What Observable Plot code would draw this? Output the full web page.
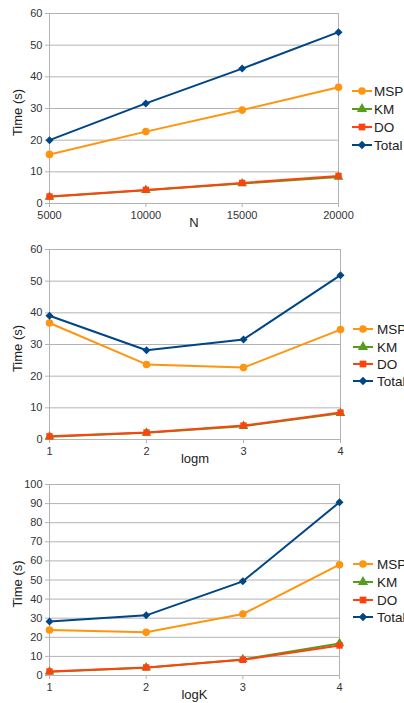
<!DOCTYPE html>
<html>
<head>
<meta charset="utf-8">
<script src="https://cdn.jsdelivr.net/npm/d3@7"></script>
<script src="https://cdn.jsdelivr.net/npm/@observablehq/plot@0.6"></script>
<style>
  html, body { margin: 0; padding: 0; background: #fff; overflow: hidden; }
  .panel { position: relative; width: 404px; overflow: hidden; }
  .legend { position: absolute; left: 0; top: 0; }
</style>
</head>
<body>
<div id="root"></div>
<script>
// ---- data ----
const seriesNames = ["MSP", "KM", "DO", "Total"];
const seriesColors = ["#ff950e", "#579d1c", "#ff420e", "#004586"];
const seriesSymbols = ["circle", "triangle", "square", "diamond2"];

// Panel 1: N
const xN = [5000, 10000, 15000, 20000];
const mspN = [15.5, 22.7, 29.5, 36.7];
const kmN = [2.1, 4.2, 6.3, 8.4];
const doN = [2.2, 4.3, 6.5, 8.7];
const totalN = [20.0, 31.6, 42.6, 54.1];

// Panel 2: logm
const xLogm = [1, 2, 3, 4];
const mspLogm = [36.8, 23.7, 22.7, 34.7];
const kmLogm = [0.9, 2.1, 4.2, 8.3];
const doLogm = [1.0, 2.2, 4.4, 8.5];
const totalLogm = [39.1, 28.2, 31.6, 51.9];

// Panel 3: logK
const xLogK = [1, 2, 3, 4];
const mspLogK = [23.8, 22.6, 32.2, 58.0];
const kmLogK = [2.0, 4.1, 8.4, 16.8];
const doLogK = [2.1, 4.2, 8.2, 15.7];
const totalLogK = [28.3, 31.5, 49.3, 90.7];

const yTicks60 = [0, 10, 20, 30, 40, 50, 60];
const yTicks100 = [0, 10, 20, 30, 40, 50, 60, 70, 80, 90, 100];

const panels = [
  {xLabel: "N", xs: xN, values: [mspN, kmN, doN, totalN], xDomain: [5000, 20000], xTicks: xN,
   yDomain: [0, 60], yTicks: yTicks60, height: 235, marginTop: 13, marginBottom: 32, marginRight: 66,
   legendX: 352, legendTextX: 374, legendY: [91, 109, 127, 145]},
  {xLabel: "logm", xs: xLogm, values: [mspLogm, kmLogm, doLogm, totalLogm], xDomain: [1, 4], xTicks: xLogm,
   yDomain: [0, 60], yTicks: yTicks60, height: 235, marginTop: 14, marginBottom: 31, marginRight: 64,
   legendX: 353, legendTextX: 377, legendY: [94, 112, 129, 146]},
  {xLabel: "logK", xs: xLogK, values: [mspLogK, kmLogK, doLogK, totalLogK], xDomain: [1, 4], xTicks: xLogK,
   yDomain: [0, 100], yTicks: yTicks100, height: 233, marginTop: 14, marginBottom: 28, marginRight: 65,
   legendX: 353, legendTextX: 377, legendY: [94, 112, 130, 147]}
];

const font = "'Liberation Sans', Arial, sans-serif";
const root = document.getElementById("root");

for (const p of panels) {
  const rows = [];
  p.values.forEach((vals, si) => {
    vals.forEach((v, i) => rows.push({series: seriesNames[si], x: p.xs[i], y: v}));
  });
  const marks = [
    Plot.gridY(p.yTicks, {stroke: "#b3b3b3", strokeOpacity: 1}),
    Plot.ruleX(p.xDomain, {stroke: "#b3b3b3"}),
    Plot.axisY({ticks: p.yTicks, tickSize: 4, tickPadding: 3, label: null, stroke: "#b3b3b3", fill: "#333", fontSize: 11}),
    Plot.axisX({ticks: p.xTicks, tickSize: 4, tickPadding: 4, label: null, stroke: "#b3b3b3", fill: "#333", fontSize: 11, tickFormat: d => String(d)}),
    Plot.text([p.xLabel], {frameAnchor: "bottom", dy: 19, lineAnchor: "middle", textAnchor: "middle", fontSize: 13, fill: "#222", text: d => d}),
    Plot.text(["Time (s)"], {frameAnchor: "left", dx: -32, dy: 4, rotate: -90, textAnchor: "middle", lineAnchor: "middle", fontSize: 13, fill: "#222", text: d => d})
  ];
  seriesNames.forEach((name, si) => {
    const data = rows.filter(r => r.series === name);
    marks.push(Plot.line(data, {x: "x", y: "y", stroke: seriesColors[si], strokeWidth: 2}));
    marks.push(Plot.dot(data, {x: "x", y: "y", fill: seriesColors[si], stroke: "none", symbol: () => seriesSymbols[si], r: si === 0 ? 3.8 : 3.6}));
  });
  const chart = Plot.plot({
    width: 404,
    height: p.height,
    marginLeft: 49,
    marginRight: p.marginRight,
    marginTop: p.marginTop,
    marginBottom: p.marginBottom,
    style: {fontFamily: font, fontSize: "11px", background: "#fff", overflow: "visible"},
    x: {domain: p.xDomain},
    y: {domain: p.yDomain},
    symbol: {domain: seriesSymbols, range: seriesSymbols},
    marks
  });
  const div = document.createElement("div");
  div.className = "panel";
  div.style.height = p.height + "px";
  div.appendChild(chart);

  // legend
  const svg = d3.create("svg").attr("class", "legend").attr("width", 404).attr("height", p.height)
    .style("font-family", font);
  const symMap = {circle: d3.symbolCircle, triangle: d3.symbolTriangle, square: d3.symbolSquare, diamond2: d3.symbolDiamond2};
  seriesNames.forEach((name, si) => {
    const y = p.legendY[si];
    const g = svg.append("g");
    g.append("line").attr("x1", p.legendX).attr("x2", p.legendX + 20).attr("y1", y).attr("y2", y)
      .attr("stroke", seriesColors[si]).attr("stroke-width", 2);
    g.append("path").attr("transform", `translate(${p.legendX + 10},${y})`)
      .attr("d", d3.symbol(symMap[seriesSymbols[si]], Math.PI * 3.8 * 3.8)())
      .attr("fill", seriesColors[si]);
    g.append("text").attr("x", p.legendTextX).attr("y", y).attr("dy", "0.35em")
      .attr("font-size", 13.5).attr("fill", "#222").text(name);
  });
  div.appendChild(svg.node());
  root.appendChild(div);
}
</script>
</body>
</html>
